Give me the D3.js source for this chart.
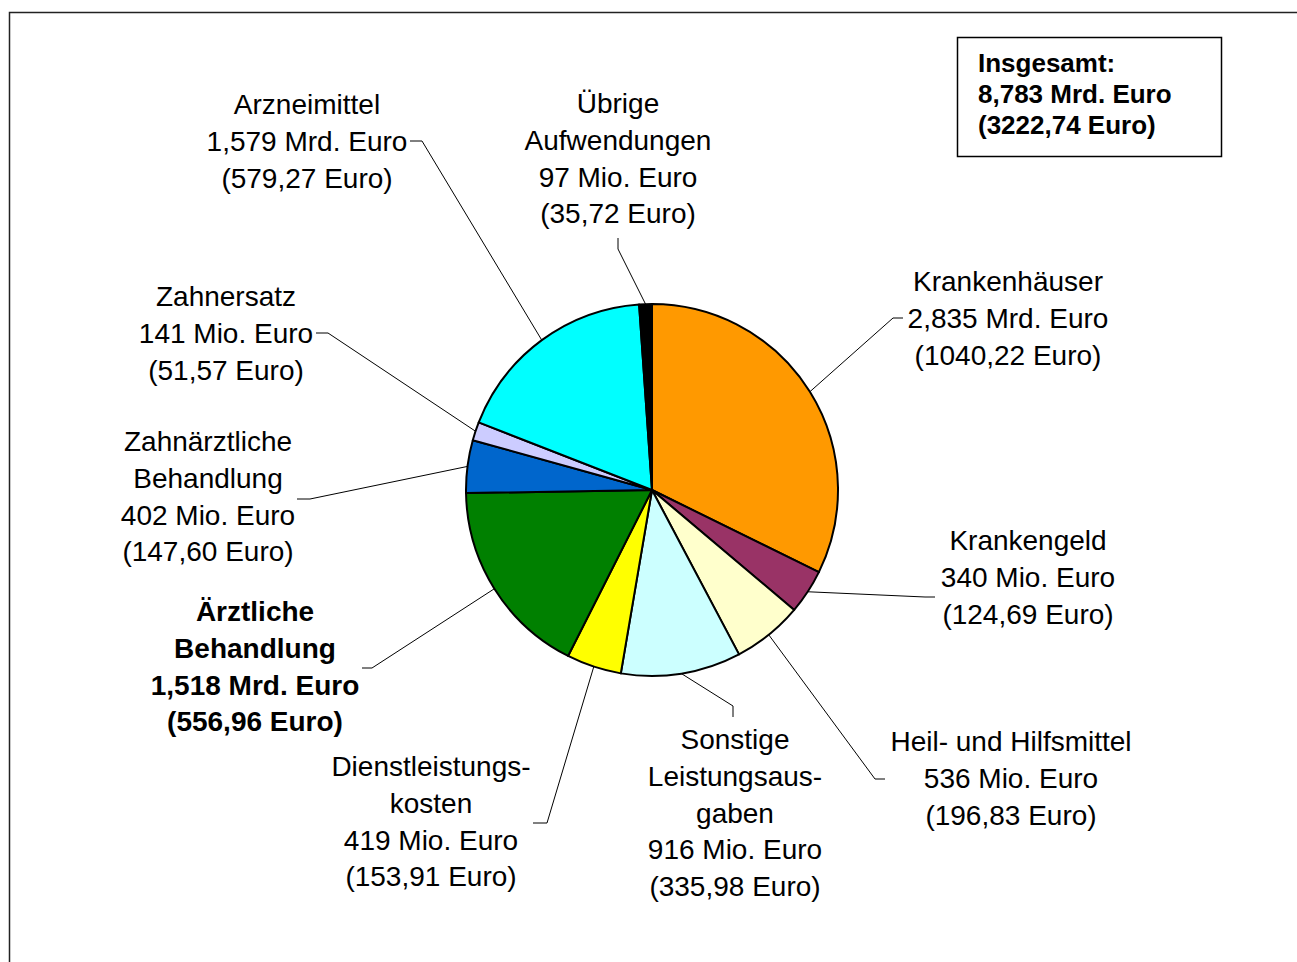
<!DOCTYPE html>
<html>
<head>
<meta charset="utf-8">
<script src="https://cdn.jsdelivr.net/npm/d3@7"></script>
<style>
  body { margin: 0; background: #fff; }
  svg { display: block; font-family: "Liberation Sans", Arial, sans-serif; }
</style>
</head>
<body>
<div id="chart"></div>
<script>
// Ausgaben nach Bereichen (Mio. Euro) und je Versicherten (Euro)
const categories = ["Krankenhäuser", "Krankengeld", "Heil- und Hilfsmittel", "Sonstige Leistungsausgaben",
    "Dienstleistungskosten", "Ärztliche Behandlung", "Zahnärztliche Behandlung", "Zahnersatz",
    "Arzneimittel", "Übrige Aufwendungen"];
const valuesMio = [2835, 340, 536, 916, 419, 1518, 402, 141, 1579, 97];
const perCapita = [1040.22, 124.69, 196.83, 335.98, 153.91, 556.96, 147.60, 51.57, 579.27, 35.72];
const labelNames = [
    ["Krankenhäuser"], ["Krankengeld"], ["Heil- und Hilfsmittel"], ["Sonstige", "Leistungsaus-", "gaben"],
    ["Dienstleistungs-", "kosten"], ["Ärztliche", "Behandlung"], ["Zahnärztliche", "Behandlung"], ["Zahnersatz"],
    ["Arzneimittel"], ["Übrige", "Aufwendungen"]];
const colors = ["#FF9900", "#993366", "#FFFFCC", "#CCFFFF", "#FFFF00", "#008000", "#0066CC", "#CCCCFF", "#00FFFF", "#000000"];
const totalPerCapita = 3222.74;

// label placement (first baseline, leader elbow and end)
const labelLayout = {
    "Krankenhäuser": { x: 1008, y: 291, elbow: [893, 318], end: [903, 318] },
    "Krankengeld": { x: 1028, y: 550, elbow: [925, 597], end: [935, 597] },
    "Heil- und Hilfsmittel": { x: 1011, y: 751, elbow: [875, 779], end: [885, 779] },
    "Sonstige Leistungsausgaben": { x: 735, y: 749, elbow: [733, 706], end: [733, 717] },
    "Dienstleistungskosten": { x: 431, y: 776, elbow: [547, 823], end: [533, 823] },
    "Ärztliche Behandlung": { x: 255, y: 621, elbow: [372, 668], end: [362, 668], bold: true },
    "Zahnärztliche Behandlung": { x: 208, y: 451, elbow: [310, 499], end: [297, 499] },
    "Zahnersatz": { x: 226, y: 306, elbow: [328, 333], end: [316, 333] },
    "Arzneimittel": { x: 307, y: 114, elbow: [422, 141], end: [410, 141] },
    "Übrige Aufwendungen": { x: 618, y: 113, elbow: [618, 249], end: [618, 238] }
};

const data = categories.map((c, i) => ({
    name: c, value: valuesMio[i], perCapita: perCapita[i], lines: labelNames[i], color: colors[i]
}));

const fmtDe = (v, digits) => v.toFixed(digits).replace(".", ",");
const fmtAmount = v => v >= 1000 ? fmtDe(v / 1000, 3) + " Mrd. Euro" : v + " Mio. Euro";

const width = 1297, height = 962;
const cx = 652, cy = 490, radius = 186;
const lineStep = 36.8;

const svg = d3.select("#chart").append("svg")
    .attr("width", width)
    .attr("height", height);

// outer frame
svg.append("rect")
    .attr("x", 9.5).attr("y", 12.5)
    .attr("width", 1400).attr("height", 1000)
    .attr("fill", "none")
    .attr("stroke", "#222")
    .attr("stroke-width", 1.5);

const pie = d3.pie().sort(null).value(d => d.value);
const arcs = pie(data);
const arc = d3.arc().innerRadius(0).outerRadius(radius);
const edgeArc = d3.arc().innerRadius(radius).outerRadius(radius);

const g = svg.append("g").attr("transform", `translate(${cx},${cy})`);

g.selectAll(".slice")
    .data(arcs)
    .enter()
    .append("path")
    .attr("class", "slice")
    .attr("d", arc)
    .attr("fill", d => d.data.color)
    .attr("stroke", "#000")
    .attr("stroke-width", 2)
    .attr("stroke-linejoin", "round");

// leader lines
svg.selectAll(".leader")
    .data(arcs)
    .enter()
    .append("polyline")
    .attr("class", "leader")
    .attr("fill", "none")
    .attr("stroke", "#000")
    .attr("stroke-width", 1)
    .attr("points", d => {
        const p = edgeArc.centroid(d);
        const lay = labelLayout[d.data.name];
        return [[cx + p[0], cy + p[1]], lay.elbow, lay.end].map(q => q.join(",")).join(" ");
    });

// labels
const labels = svg.selectAll(".label")
    .data(data)
    .enter()
    .append("text")
    .attr("class", "label")
    .attr("text-anchor", "middle")
    .style("font-size", "28px")
    .style("font-weight", d => labelLayout[d.name].bold ? "bold" : "normal")
    .attr("fill", "#000");

labels.each(function (d) {
    const lay = labelLayout[d.name];
    const lines = d.lines.concat([fmtAmount(d.value), "(" + fmtDe(d.perCapita, 2) + " Euro)"]);
    d3.select(this).selectAll("tspan")
        .data(lines)
        .enter()
        .append("tspan")
        .attr("x", lay.x)
        .attr("y", (l, i) => lay.y + i * lineStep)
        .text(l => l);
});

// total box
const total = d3.sum(valuesMio);
const box = svg.append("g");
box.append("rect")
    .attr("x", 957.5).attr("y", 37.5)
    .attr("width", 264).attr("height", 119)
    .attr("fill", "#fff")
    .attr("stroke", "#000")
    .attr("stroke-width", 1.5);

box.append("text")
    .style("font-size", "26px")
    .style("font-weight", "bold")
    .selectAll("tspan")
    .data(["Insgesamt:", fmtAmount(total), "(" + fmtDe(totalPerCapita, 2) + " Euro)"])
    .enter()
    .append("tspan")
    .attr("x", 978)
    .attr("y", (l, i) => 72 + i * 31)
    .text(l => l);
</script>
</body>
</html>
